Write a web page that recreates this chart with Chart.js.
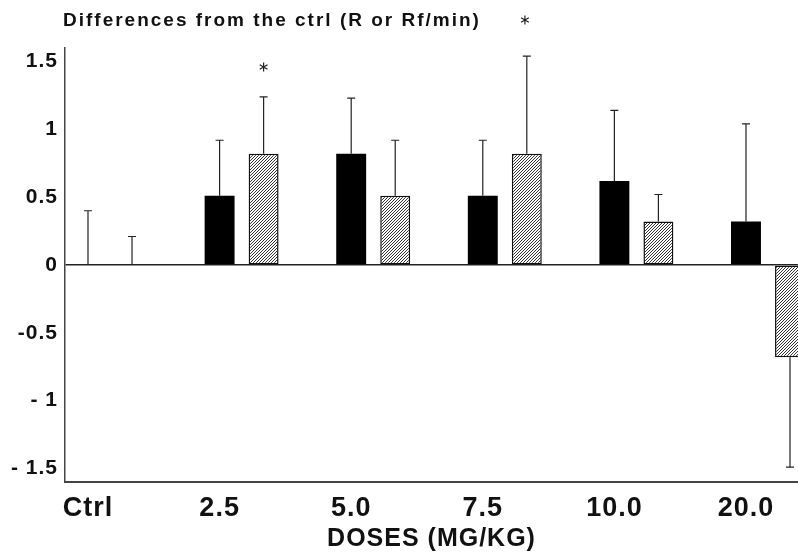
<!DOCTYPE html>
<html lang="en">
<head>
<meta charset="UTF-8">
<title>Differences from the ctrl</title>
<script src="https://cdn.jsdelivr.net/npm/chart.js@4.4.0/dist/chart.umd.min.js"></script>
<style>
    html, body { margin: 0; padding: 0; background: #fff; }
    #wrap { width: 798px; height: 556px; }
</style>
</head>
<body>
<div id="wrap"><canvas id="myChart" width="798" height="556"></canvas></div>
<script>
// data
var doseLabels = ['Ctrl', '2.5', '5.0', '7.5', '10.0', '20.0'];
var blackValues = [0, 0.51, 0.82, 0.51, 0.62, 0.32];
var blackErrEnd = [0.40, 0.92, 1.23, 0.92, 1.14, 1.04];
var hatchValues = [0, 0.82, 0.51, 0.82, 0.32, -0.68];
var hatchErrEnd = [0.21, 1.24, 0.92, 1.54, 0.52, -1.49];
// significance asterisk above hatched bar
var starIndex = [1];
var starValue = [1.46];
var yTickValues = [1.5, 1, 0.5, 0, -0.5, -1, -1.5];
var yTickLabels = ['1.5', '1', '0.5', '0', '-0.5', '- 1', '- 1.5'];
var titleText = 'Differences from the ctrl (R or Rf/min)';

var FONT = "'Liberation Sans', Arial, Helvetica, sans-serif";

function makeHatch() {
    var c = document.createElement('canvas');
    c.width = 3; c.height = 3;
    var g = c.getContext('2d');
    g.fillStyle = '#fff';
    g.fillRect(0, 0, 3, 3);
    g.strokeStyle = '#333';
    g.lineWidth = 1;
    g.beginPath();
    g.moveTo(0, 3); g.lineTo(3, 0);
    g.moveTo(-1, 1); g.lineTo(1, -1);
    g.moveTo(2, 4); g.lineTo(4, 2);
    g.stroke();
    return g.createPattern(c, 'repeat');
}

function toPoints(vals) {
    return vals.map(function (v, i) { return { x: i, y: v }; });
}

function drawStar(ctx, x, y, r) {
    ctx.save();
    ctx.strokeStyle = '#222';
    ctx.lineWidth = 1.2;
    ctx.beginPath();
    for (var k = 0; k < 3; k++) {
        var a = Math.PI / 2 + k * Math.PI / 3;
        ctx.moveTo(x + r * Math.cos(a), y + r * Math.sin(a));
        ctx.lineTo(x - r * Math.cos(a), y - r * Math.sin(a));
    }
    ctx.stroke();
    ctx.restore();
}

var extras = {
    id: 'extras',
    beforeDraw: function (chart) {
        chart.ctx.letterSpacing = '1px';
    },
    afterDatasetsDraw: function (chart) {
        var ctx = chart.ctx;
        var ys = chart.scales.y;
        function drawErr(di, vals, ends) {
            var meta = chart.getDatasetMeta(di);
            ctx.save();
            ctx.strokeStyle = '#222';
            ctx.lineWidth = 1.2;
            for (var i = 0; i < vals.length; i++) {
                var x = meta.data[i].x;
                var y0 = ys.getPixelForValue(vals[i]);
                var y1 = ys.getPixelForValue(ends[i]);
                ctx.beginPath();
                ctx.moveTo(x, y0); ctx.lineTo(x, y1);
                ctx.moveTo(x - 4, y1); ctx.lineTo(x + 4, y1);
                ctx.stroke();
            }
            ctx.restore();
        }
        drawErr(0, blackValues, blackErrEnd);
        drawErr(1, hatchValues, hatchErrEnd);
        var hm = chart.getDatasetMeta(1);
        for (var s = 0; s < starIndex.length; s++) {
            drawStar(ctx, hm.data[starIndex[s]].x, ys.getPixelForValue(starValue[s]), 4.5);
        }
    },
    afterDraw: function (chart) {
        var ctx = chart.ctx;
        var x = chart.chartArea.left - 2;
        ctx.save();
        ctx.font = 'bold 19px ' + FONT;
        ctx.letterSpacing = '2px';
        ctx.fillStyle = '#111';
        ctx.textBaseline = 'middle';
        ctx.textAlign = 'left';
        ctx.fillText(titleText, x, 21);
        var w = ctx.measureText(titleText).width;
        ctx.restore();
        drawStar(ctx, x + w + 44, 20, 4.5);
    }
};

var ctx = document.getElementById('myChart');
var myChart = new Chart(ctx, {
    type: 'bar',
    data: {
        datasets: [
            {
                label: 'R',
                data: toPoints(blackValues),
                backgroundColor: '#000',
                borderWidth: 0
            },
            {
                label: 'Rf',
                data: toPoints(hatchValues),
                backgroundColor: makeHatch(),
                borderColor: '#111',
                borderWidth: 1.5,
                borderSkipped: false
            }
        ]
    },
    options: {
        responsive: false,
        animation: false,
        categoryPercentage: 0.669,
        barPercentage: 0.68,
        layout: { padding: { top: 48, right: 0, left: 0, bottom: 0 } },
        plugins: {
            legend: { display: false },
            tooltip: { enabled: false }
        },
        scales: {
            x: {
                type: 'linear',
                offset: false,
                min: -0.342,
                max: 5.228,
                afterBuildTicks: function (scale) {
                    scale.ticks = doseLabels.map(function (l, i) { return { value: i - 0.167 }; });
                },
                afterFit: function (scale) { scale.height = 74; },
                ticks: {
                    autoSkip: false,
                    maxRotation: 0,
                    padding: 10,
                    color: '#111',
                    font: { family: FONT, size: 27, weight: 'bold' },
                    callback: function (v, idx) { return doseLabels[idx]; }
                },
                grid: { display: false, drawTicks: false, offset: false },
                border: { display: true, color: '#444', width: 2 },
                title: {
                    display: true,
                    text: 'DOSES (MG/KG)',
                    color: '#111',
                    font: { family: FONT, size: 25, weight: 'bold' },
                    padding: { top: 0, bottom: 2 }
                }
            },
            y: {
                min: -1.6,
                max: 1.6,
                afterBuildTicks: function (scale) {
                    scale.ticks = yTickValues.map(function (v) { return { value: v }; });
                },
                afterFit: function (scale) { scale.width = 65; },
                ticks: {
                    padding: 7,
                    color: '#111',
                    font: { family: FONT, size: 21, weight: 'bold' },
                    callback: function (v, idx) { return yTickLabels[idx]; }
                },
                grid: {
                    drawTicks: false,
                    lineWidth: 1.5,
                    color: function (c) { return c.tick && c.tick.value === 0 ? '#222' : 'rgba(0,0,0,0)'; }
                },
                border: { display: true, color: '#444', width: 1.5 }
            }
        }
    },
    plugins: [extras]
});
</script>
</body>
</html>
